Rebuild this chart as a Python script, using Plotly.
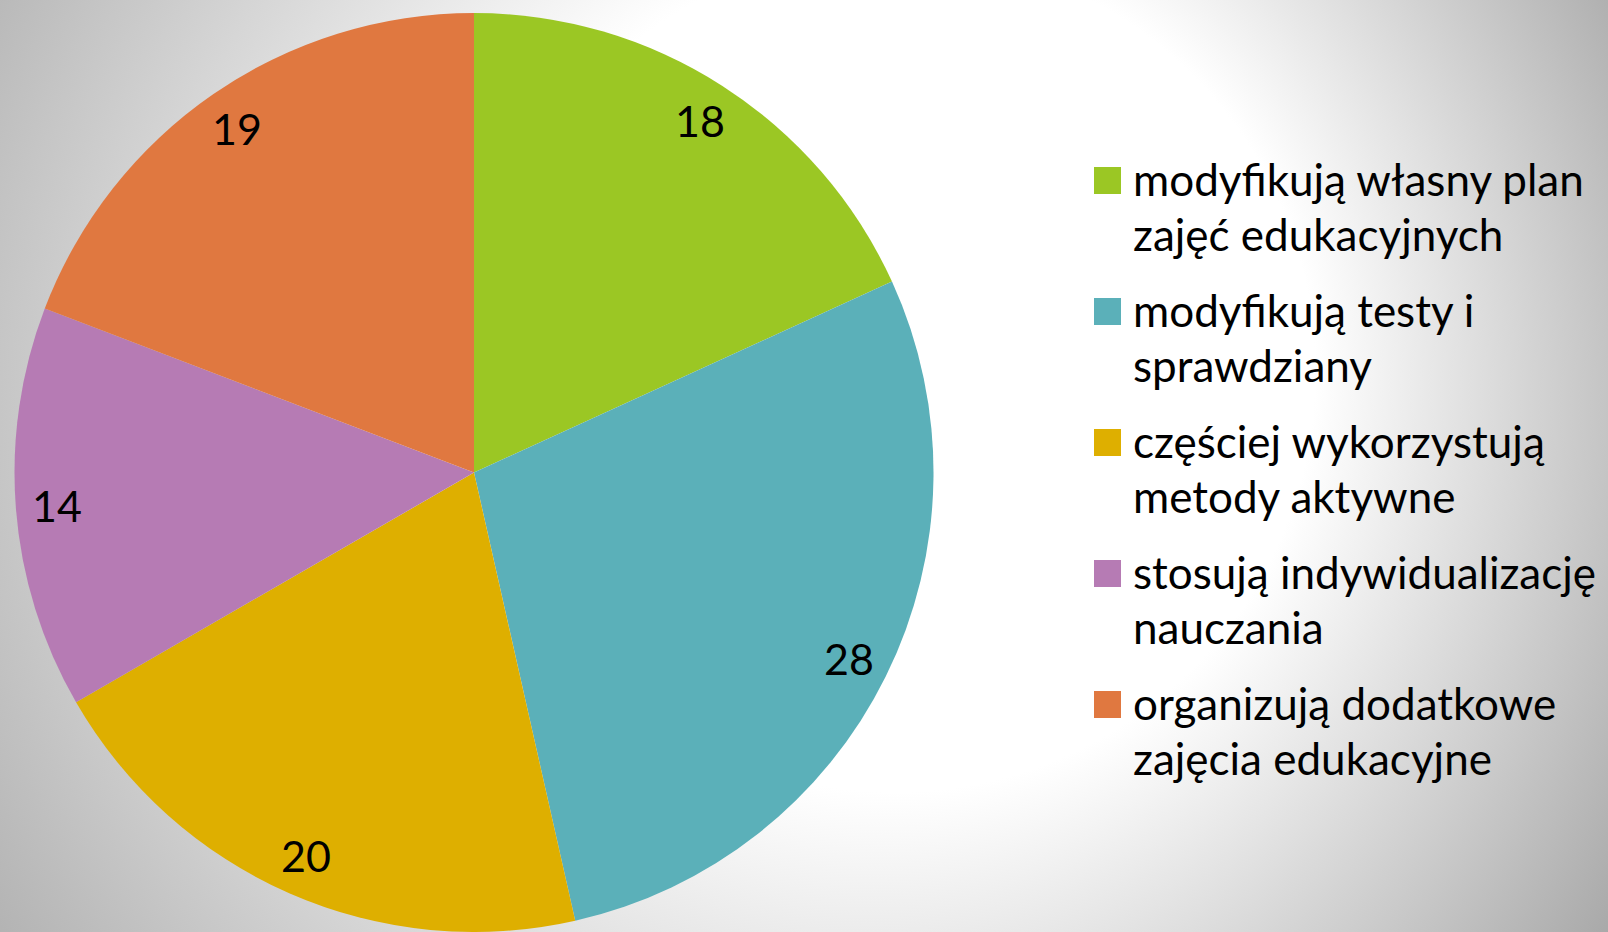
import base64
import math
import plotly.graph_objects as go

# ---- data ----
labels = [
    "modyfikują własny plan<br>zajęć edukacyjnych",
    "modyfikują testy i<br>sprawdziany",
    "częściej wykorzystują<br>metody aktywne",
    "stosują indywidualizację<br>nauczania",
    "organizują dodatkowe<br>zajęcia edukacyjne",
]
values = [18, 28, 20, 14, 19]
colors = ["#9BC724", "#5BB0B9", "#DEAF00", "#B67BB4", "#E07840"]

W, H = 1608, 932
FONT = "Lato"

# ---- background radial gradient (SVG data URI) ----
svg = f'''<svg xmlns="http://www.w3.org/2000/svg" width="{W}" height="{H}" viewBox="0 0 {W} {H}" preserveAspectRatio="none">
<defs><radialGradient id="g" gradientUnits="userSpaceOnUse" cx="700" cy="450" r="1200" fx="1000" fy="330">
<stop offset="0" stop-color="#ffffff"/><stop offset="0.35" stop-color="#ffffff"/>
<stop offset="1" stop-color="#8a8a8a"/></radialGradient></defs>
<rect x="0" y="0" width="{W}" height="{H}" fill="url(#g)"/></svg>'''
src = "data:image/svg+xml;base64," + base64.b64encode(svg.encode()).decode()

# pie geometry (pixels)
x0, x1 = 13, 935
y0, y1 = 13, 932
cx = (x0 + x1) / 2
cy = (y0 + y1) / 2
R = min(x1 - x0, y1 - y0) / 2

fig = go.Figure()
fig.add_trace(go.Pie(
    labels=labels, values=values, sort=False, direction="clockwise", rotation=0,
    marker=dict(colors=colors, line=dict(width=0)),
    textinfo="none", hoverinfo="label+value", showlegend=False,
    domain=dict(x=[x0 / W, x1 / W], y=[1 - y1 / H, 1 - y0 / H]),
))

annotations = []
shapes = []
total = sum(values)
cum = 0
for v in values:
    mid = (cum + v / 2) / total * 2 * math.pi
    cum += v
    px = cx + 0.91 * R * math.sin(mid)
    py = cy - 0.91 * R * math.cos(mid)
    annotations.append(dict(x=px / W, y=1 - py / H, xref="paper", yref="paper",
                            text=str(v), showarrow=False, xanchor="center", yanchor="middle",
                            font=dict(family=FONT, size=43, color="black")))

# manual legend
for i, (lab, col) in enumerate(zip(labels, colors)):
    base = 195 + 131 * i
    shapes.append(dict(type="rect", xref="paper", yref="paper",
                       x0=1094 / W, x1=1121 / W, y0=1 - (base - 1) / H, y1=1 - (base - 28) / H,
                       fillcolor=col, line=dict(width=0)))
    for j, line in enumerate(lab.split("<br>")):
        b = base + 55 * j
        annotations.append(dict(x=1131 / W, y=1 - (b - 16) / H, xref="paper", yref="paper",
                                text=line, showarrow=False, xanchor="left", yanchor="middle",
                                font=dict(family=FONT, size=44, color="black")))

fig.update_layout(
    width=W, height=H, margin=dict(l=0, r=0, t=0, b=0),
    paper_bgcolor="white", plot_bgcolor="white",
    images=[dict(source=src, xref="paper", yref="paper", x=0, y=1, sizex=1, sizey=1,
                 xanchor="left", yanchor="top", sizing="stretch", layer="below")],
    annotations=annotations, shapes=shapes,
)
fig.write_html("out.html", config={"displayModeBar": False},
               post_script="document.body.style.margin='0';document.body.style.overflow='hidden';")
